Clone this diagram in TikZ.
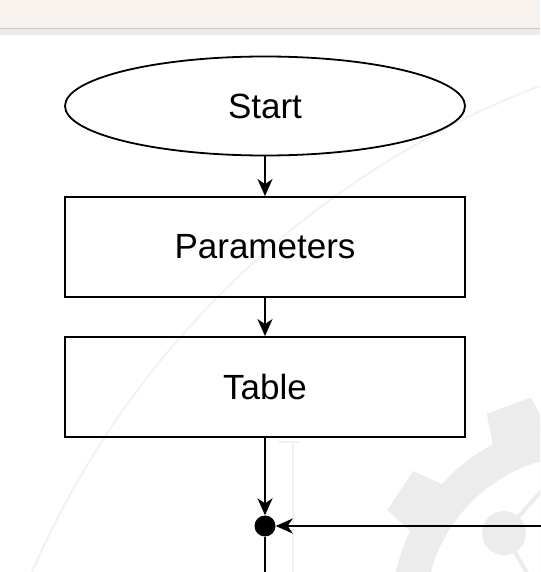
\documentclass[tikz,border=0pt]{standalone}
\usepackage{fontspec}
\setmainfont{Liberation Sans}
\usetikzlibrary{shapes.geometric, arrows.meta}

\definecolor{headbg}{RGB}{247,242,238}
\definecolor{headline}{RGB}{200,198,196}
\definecolor{bandgray}{RGB}{235,235,235}
\definecolor{wmgray}{RGB}{236,236,236}
\definecolor{wmlight}{RGB}{242,242,242}

\tikzset{
  flowbox/.style={draw, line width=1.8pt, rectangle, minimum width=400pt, minimum height=100pt, inner sep=0pt, font=\fontsize{35}{40}\selectfont},
  startnode/.style={draw, line width=1.8pt, ellipse, minimum width=400pt, minimum height=99pt, inner sep=0pt, font=\fontsize{35}{40}\selectfont},
  flowarrow/.style={line width=2pt, -{Stealth[length=17pt, width=15pt, inset=5pt]}},
  flowline/.style={line width=2pt}
}

\begin{document}
\begin{tikzpicture}[x=1pt, y=-1pt]
    \useasboundingbox (0, 0) rectangle (540, 572);

    % header bar
    \fill[headbg] (0, 0) rectangle (540, 28);
    \fill[bandgray] (0, 29) rectangle (540, 35);
    \draw[headline, line width=1pt] (0, 28.5) -- (540, 28.5);

    % watermark
    \begin{scope}
        \clip (0, 35) rectangle (540, 572);
        \draw[wmlight, line width=2pt] (862, 931) circle (904pt);
        \begin{scope}[shift={(585, 615)}, yscale=-1]
            \fill[wmgray] (0, 0) circle (194pt);
            \foreach \a in {2, 38, ..., 326}
                \fill[wmgray] (\a-9:188) -- (\a-6:224) -- (\a+6:224) -- (\a+9:188) -- cycle;
            \fill[white] (0, 0) circle (160pt);
        \end{scope}
        \fill[wmgray] (504, 533) circle (22pt);
        \draw[wmgray, line width=4pt] (504, 533) -- (560, 470);
        \draw[wmgray, line width=4pt] (504, 533) -- (534, 585);
        \draw[wmlight, line width=2pt] (293, 442) -- (293, 572);
        \draw[wmlight, line width=2pt] (278, 442) -- (300, 442);
    \end{scope}

    % flow
    \node[startnode] (start) at (265, 106) {Start};
    \node[flowbox] (params) at (265, 247) {Parameters};
    \node[flowbox] (table) at (265, 387) {Table};
    \coordinate (merge) at (265, 526);
    \fill[black] (merge) circle (10.5pt);
    \node[circle, minimum size=21pt, inner sep=0pt] (dot) at (merge) {};
    \coordinate (loopin) at (541, 526);
    \coordinate (down) at (265, 573);

    \draw[flowarrow] (start) -- (params);
    \draw[flowarrow] (params) -- (table);
    \draw[flowarrow] (table) -- (dot);
    \draw[flowarrow] (loopin) -- (dot);
    \draw[flowline] (dot) -- (down);
\end{tikzpicture}
\end{document}
